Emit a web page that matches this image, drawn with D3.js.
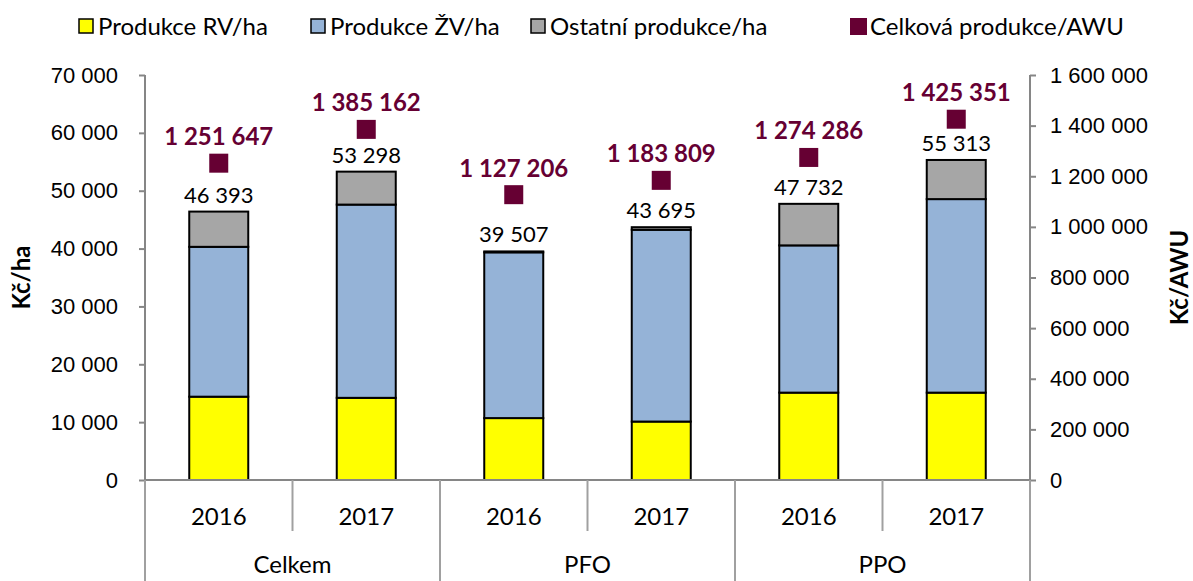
<!DOCTYPE html>
<html>
<head>
<meta charset="utf-8">
<script src="https://cdn.jsdelivr.net/npm/d3@7"></script>
<style>
	body { margin: 0; background: #fff; }
	svg { display: block; font-family: Lato, 'Open Sans', sans-serif; }
	.axis path, .axis line { stroke: #868686; stroke-width: 2; }
	.axis text { font-size: 22px; fill: #000; }
</style>
</head>
<body>
<div id="graphic"></div>
<script>
// data
var groups = ['Celkem', 'PFO', 'PPO'];
var years = ['2016', '2017'];
var produkceRV = [14400, 14200, 10700, 10100, 15100, 15100];
var produkceZV = [25900, 33400, 28650, 33150, 25450, 33450];
var ostatni = [6093, 5698, 157, 445, 7182, 6763];
var celkemHa = [46393, 53298, 39507, 43695, 47732, 55313];
var celkemAWU = [1251647, 1385162, 1127206, 1183809, 1274286, 1425351];
var leftTicks = [0, 10000, 20000, 30000, 40000, 50000, 60000, 70000];
var rightTicks = [0, 200000, 400000, 600000, 800000, 1000000, 1200000, 1400000, 1600000];

var seriesNames = ['Produkce RV/ha', 'Produkce ŽV/ha', 'Ostatní produkce/ha'];
var colours = ['#ffff00', '#95b3d7', '#a6a6a6'];
var awuColour = '#660033';

var width = 1193, height = 581;
var margin = { top: 75, left: 145, right: 163, bottom: 101 };
var plotW = width - margin.left - margin.right;
var plotH = height - margin.top - margin.bottom;

// build rows
var rows = [];
groups.forEach(function (g, gi) {
	years.forEach(function (yr, yi) {
		var i = gi * years.length + yi;
		rows.push({
			id: g + '-' + yr, group: g, year: yr,
			rv: produkceRV[i], zv: produkceZV[i], other: ostatni[i],
			total: celkemHa[i], awu: celkemAWU[i]
		});
	});
});

var svg = d3.select('#graphic').append('svg')
	.attr('width', width).attr('height', height);

var g = svg.append('g')
	.attr('transform', 'translate(' + margin.left + ',' + margin.top + ')');

var x = d3.scaleBand()
	.domain(rows.map(function (d) { return d.id; }))
	.range([0, plotW])
	.paddingInner(0.6)
	.paddingOuter(0.3);
var step = x.step();

var y = d3.scaleLinear().domain([0, 70000]).range([plotH, 0]);
var y2 = d3.scaleLinear().domain([0, 1600000]).range([plotH, 0]);

var fmt = function (v) { return d3.format(',')(v).replace(/,/g, ' '); };

// left axis
g.append('g').attr('class', 'axis')
	.call(d3.axisLeft(y).tickValues(leftTicks).tickSize(6).tickPadding(21).tickFormat(fmt))
	.call(function (s) { s.select('.domain').attr('d', 'M0,0V' + plotH); });

// right axis
g.append('g').attr('class', 'axis')
	.attr('transform', 'translate(' + plotW + ',0)')
	.call(d3.axisRight(y2).tickValues(rightTicks).tickSize(6).tickPadding(14).tickFormat(fmt))
	.call(function (s) { s.select('.domain').attr('d', 'M0,0V' + plotH); });

// stacked bars
var stack = d3.stack().keys(['rv', 'zv', 'other'])(rows);
g.selectAll('g.layer')
	.data(stack)
	.join('g')
	.attr('class', 'layer')
	.attr('fill', function (d, i) { return colours[i]; })
	.selectAll('rect')
	.data(function (d) { return d; })
	.join('rect')
	.attr('x', function (d) { return x(d.data.id); })
	.attr('y', function (d) { return y(d[1]); })
	.attr('width', x.bandwidth())
	.attr('height', function (d) { return y(d[0]) - y(d[1]); })
	.attr('stroke', '#000')
	.attr('stroke-width', 2);

// category axis
var cat = g.append('g').attr('transform', 'translate(0,' + plotH + ')');
cat.append('line')
	.attr('x1', 0).attr('x2', plotW)
	.attr('stroke', '#868686').attr('stroke-width', 2);
rows.forEach(function (d, i) {
	var left = x(d.id) - x.paddingInner() * step / 2;
	var isGroupEdge = i % years.length === 0;
	cat.append('line')
		.attr('x1', left).attr('x2', left)
		.attr('y1', 0).attr('y2', isGroupEdge ? 102 : 51)
		.attr('stroke', '#a0a0a0').attr('stroke-width', 2);
	cat.append('text')
		.attr('x', x(d.id) + x.bandwidth() / 2)
		.attr('y', 45)
		.attr('text-anchor', 'middle')
		.attr('font-size', '24px')
		.text(d.year);
});
cat.append('line')
	.attr('x1', plotW).attr('x2', plotW)
	.attr('y1', 0).attr('y2', 102)
	.attr('stroke', '#a0a0a0').attr('stroke-width', 2);
groups.forEach(function (gr, gi) {
	var first = rows[gi * years.length], last = rows[gi * years.length + years.length - 1];
	cat.append('text')
		.attr('x', (x(first.id) + x(last.id) + x.bandwidth()) / 2)
		.attr('y', 93)
		.attr('text-anchor', 'middle')
		.attr('font-size', '24px')
		.text(gr);
});

// total labels
g.selectAll('text.total')
	.data(rows)
	.join('text')
	.attr('class', 'total')
	.attr('x', function (d) { return x(d.id) + x.bandwidth() / 2; })
	.attr('y', function (d) { return y(d.total) - 9; })
	.attr('text-anchor', 'middle')
	.attr('font-size', '22px')
	.text(function (d) { return fmt(d.total); });

// AWU markers
var sq = 19;
g.selectAll('rect.awu')
	.data(rows)
	.join('rect')
	.attr('class', 'awu')
	.attr('x', function (d) { return x(d.id) + x.bandwidth() / 2 - sq / 2; })
	.attr('y', function (d) { return y2(d.awu) - sq / 2; })
	.attr('width', sq).attr('height', sq)
	.attr('fill', awuColour);

g.selectAll('text.awuLabel')
	.data(rows)
	.join('text')
	.attr('class', 'awuLabel')
	.attr('x', function (d) { return x(d.id) + x.bandwidth() / 2; })
	.attr('y', function (d) { return y2(d.awu) - 18; })
	.attr('text-anchor', 'middle')
	.attr('font-size', '24px')
	.attr('font-weight', 'bold')
	.attr('fill', awuColour)
	.text(function (d) { return fmt(d.awu); });

// axis titles
svg.append('text')
	.attr('transform', 'translate(30,' + (margin.top + plotH / 2) + ') rotate(-90)')
	.attr('text-anchor', 'middle')
	.attr('font-size', '24px').attr('font-weight', 'bold')
	.text('Kč/ha');
svg.append('text')
	.attr('transform', 'translate(1188,' + (margin.top + plotH / 2) + ') rotate(-90)')
	.attr('text-anchor', 'middle')
	.attr('font-size', '24px').attr('font-weight', 'bold')
	.text('Kč/AWU');

// legend
var legendItems = [
	{ label: seriesNames[0], colour: colours[0], x: 78, border: true },
	{ label: seriesNames[1], colour: colours[1], x: 310, border: true },
	{ label: seriesNames[2], colour: colours[2], x: 530, border: true },
	{ label: 'Celková produkce/AWU', colour: awuColour, x: 850, border: false }
];
var legend = svg.append('g').attr('transform', 'translate(0,26)');
legendItems.forEach(function (d) {
	legend.append('rect')
		.attr('x', d.border ? d.x + 1 : d.x).attr('y', d.border ? -7 : -8)
		.attr('width', d.border ? 14 : 17).attr('height', d.border ? 14 : 17)
		.attr('fill', d.colour)
		.attr('stroke', d.border ? '#000' : 'none')
		.attr('stroke-width', 1.5);
	legend.append('text')
		.attr('x', d.x + 20).attr('y', 9)
		.attr('font-size', '24px')
		.text(d.label);
});
</script>
</body>
</html>
